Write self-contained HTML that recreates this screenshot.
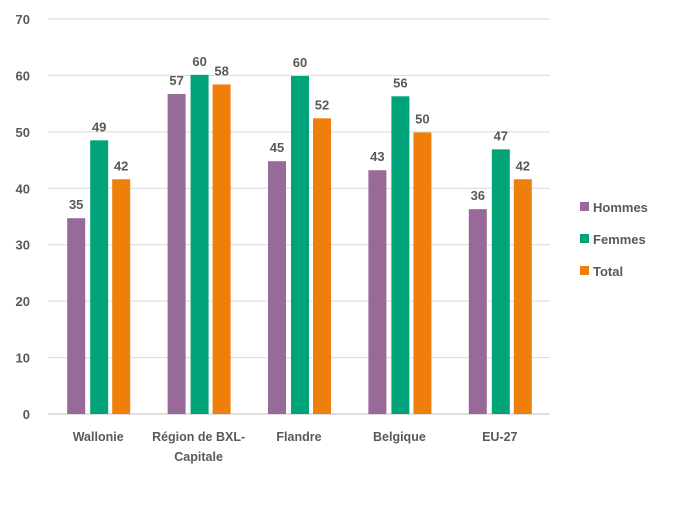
<!DOCTYPE html>
<html><head><meta charset="utf-8"><style>
body{margin:0;background:#fff;}
svg text{font-family:"Liberation Sans",sans-serif;font-weight:bold;fill:#595959;}
</style></head><body>
<svg id="chart" width="700" height="513"></svg>
<script>
const categories=["Wallonie","Région de BXL-|Capitale","Flandre","Belgique","EU-27"];
const hommes=[34.7,56.7,44.8,43.2,36.3];
const femmes=[48.5,60.1,59.9,56.3,46.9];
const total=[41.6,58.4,52.4,49.9,41.6];
const hommesLabels=["35","57","45","43","36"];
const femmesLabels=["49","60","60","56","47"];
const totalLabels=["42","58","52","50","42"];
const yTicks=[0,10,20,30,40,50,60,70];
const seriesNames=["Hommes","Femmes","Total"];
const colors=["#976A9A","#00A478","#F07E0A"];
const NS="http://www.w3.org/2000/svg";
const svg=document.getElementById("chart");
const x0=48,x1=550,y0=414,yTop=19;
const y=v=>y0-(v/70)*(y0-yTop);
const band=(x1-x0)/categories.length;
function mk(t,a,p){const e=document.createElementNS(NS,t);for(const k in a)e.setAttribute(k,a[k]);(p||svg).appendChild(e);return e;}
yTicks.forEach((t,i)=>{
  if(t>0){const g=mk("line",{x1:x0,x2:x1,y1:y(t),y2:y(t),stroke:"#d9d9d9","stroke-width":1});
  
  }
  const l=mk("text",{x:30,y:y(t)+5,"text-anchor":"end","font-size":13});l.textContent=t;
  
  
});
const ax=mk("line",{x1:x0,x2:x1,y1:y0,y2:y0,stroke:"#bfbfbf","stroke-width":1});


const series=[hommes,femmes,total],labels=[hommesLabels,femmesLabels,totalLabels];
const bw=18,offs=[-31,-8,14];
categories.forEach((c,i)=>{
  const cx=x0+band*(i+0.5);
  series.forEach((s,j)=>{
    const bx=cx+offs[j];
    const r=mk("rect",{x:bx,y:y(s[i]),width:bw,height:y0-y(s[i]),fill:colors[j]});
    
    
    const t=mk("text",{x:bx+bw/2,y:y(s[i])-9,"text-anchor":"middle","font-size":13});
    t.textContent=labels[j][i];
    
    
  });
  c.split("|").forEach((ln,k)=>{
    const t=mk("text",{x:cx,y:441+k*20,"text-anchor":"middle","font-size":12.5});
    t.textContent=ln+(k==0&&c.includes("|")?"":"");
    
    
  });
});
seriesNames.forEach((n,j)=>{
  const g=mk("g",{});
  
  
  mk("rect",{x:580,y:202+j*32,width:9,height:9,fill:colors[j]},g);
  const t=mk("text",{x:593,y:212+j*32,"font-size":13},g);t.textContent=n;
});
</script>
</body></html>
